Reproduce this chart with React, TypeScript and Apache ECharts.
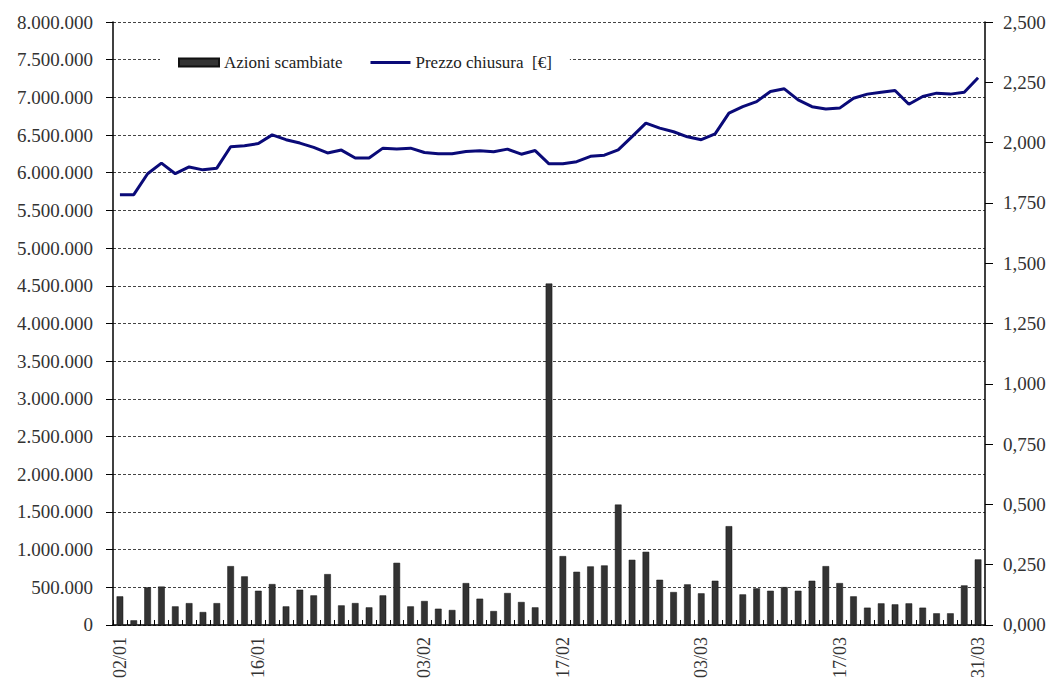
import React, { useEffect, useRef } from "react";
import * as echarts from "echarts";

const dates: string[] = [
  "02/01", "03/01", "06/01", "07/01", "08/01", "09/01", "10/01", "13/01", "14/01", "15/01",
  "16/01", "17/01", "20/01", "21/01", "22/01", "23/01", "24/01", "27/01", "28/01", "29/01",
  "30/01", "31/01", "03/02", "04/02", "05/02", "06/02", "07/02", "10/02", "11/02", "12/02",
  "13/02", "14/02", "17/02", "18/02", "19/02", "20/02", "21/02", "24/02", "25/02", "26/02",
  "27/02", "28/02", "03/03", "04/03", "05/03", "06/03", "07/03", "10/03", "11/03", "12/03",
  "13/03", "14/03", "17/03", "18/03", "19/03", "20/03", "21/03", "24/03", "25/03", "26/03",
  "27/03", "28/03", "31/03",
];

const shownLabels: string[] = ["02/01", "16/01", "03/02", "17/02", "03/03", "17/03", "31/03"];

const volumes: number[] = [
  380000, 62000, 500000, 510000, 247000, 290000, 172000, 290000, 781000, 645000,
  454000, 543000, 247000, 468000, 393000, 675000, 260000, 291000, 234000, 393000,
  825000, 247000, 318000, 216000, 199000, 556000, 349000, 185000, 424000, 305000,
  234000, 4530000, 914000, 706000, 777000, 790000, 1598000, 865000, 971000, 600000,
  437000, 539000, 420000, 587000, 1311000, 406000, 486000, 454000, 503000, 454000,
  587000, 781000, 556000, 380000, 230000, 287000, 274000, 287000, 230000, 155000,
  155000, 525000, 870000,
];

const prices: number[] = [
  1.784, 1.784, 1.871, 1.915, 1.871, 1.899, 1.887, 1.894, 1.983, 1.987,
  1.996, 2.032, 2.012, 1.998, 1.980, 1.957, 1.969, 1.936, 1.936, 1.977,
  1.973, 1.977, 1.959, 1.954, 1.954, 1.963, 1.966, 1.962, 1.973, 1.952,
  1.967, 1.912, 1.912, 1.921, 1.943, 1.948, 1.970, 2.025, 2.081, 2.060,
  2.045, 2.024, 2.012, 2.036, 2.122, 2.149, 2.170, 2.212, 2.223, 2.177,
  2.149, 2.139, 2.143, 2.184, 2.201, 2.209, 2.216, 2.159, 2.191, 2.205,
  2.201, 2.209, 2.269,
];

const seriesNames: string[] = ["Azioni scambiate", "Prezzo chiusura  [€]"];

const FONT = "'Liberation Serif', 'Times New Roman', serif";
const NAVY = "#0a0a78";

function fmtThousands(v: number): string {
  return Math.round(v).toString().replace(/\B(?=(\d{3})+(?!\d))/g, ".");
}

export default function App() {
  const ref = useRef<HTMLDivElement>(null);

  useEffect(() => {
    if (!ref.current) return;
    const chart = echarts.init(ref.current, undefined, { renderer: "svg" });
    chart.setOption({
      animation: false,
      backgroundColor: "#ffffff",
      textStyle: { fontFamily: FONT },
      grid: { left: 113, right: 65, top: 22, bottom: 55, containLabel: false },
      legend: {
        left: 160,
        top: 46,
        padding: [8, 18],
        backgroundColor: "#ffffff",
        itemGap: 28,
        itemWidth: 40,
        itemHeight: 8,
        textStyle: { fontFamily: FONT, fontSize: 17, color: "#222" },
        data: [
          { name: seriesNames[0], icon: "rect" },
          {
            name: seriesNames[1],
            icon: "path://M0 0H40V3H0Z",
            itemStyle: { color: NAVY },
          },
        ],
      },
      xAxis: {
        type: "category",
        data: dates,
        boundaryGap: true,
        axisLine: { lineStyle: { color: "#000", width: 1.5 } },
        axisTick: { show: true, inside: true, length: 5, interval: 0, lineStyle: { color: "#000" } },
        axisLabel: {
          rotate: 90,
          margin: 12,
          fontFamily: FONT,
          fontSize: 18,
          color: "#333",
          interval: (_i: number, v: string) => shownLabels.includes(v),
        },
        splitLine: { show: false },
      },
      yAxis: [
        {
          type: "value",
          min: 0,
          max: 8000000,
          interval: 500000,
          axisLine: { show: true, lineStyle: { color: "#000", width: 1.5 } },
          axisTick: { show: true, length: 7, lineStyle: { color: "#000" } },
          axisLabel: {
            margin: 20,
            fontFamily: FONT,
            fontSize: 19,
            color: "#333",
            formatter: (v: number) => fmtThousands(v),
          },
          splitLine: { show: true, lineStyle: { color: "#444", type: [3, 2], width: 1 } },
        },
        {
          type: "value",
          min: 0,
          max: 2.5,
          interval: 0.25,
          position: "right",
          axisLine: { show: true, lineStyle: { color: "#000", width: 1.5 } },
          axisTick: { show: true, length: 8, lineStyle: { color: "#000" } },
          axisLabel: {
            margin: 18,
            fontFamily: FONT,
            fontSize: 19,
            color: "#333",
            formatter: (v: number) => v.toFixed(3).replace(".", ","),
          },
          splitLine: { show: false },
        },
      ],
      series: [
        {
          name: seriesNames[0],
          type: "bar",
          yAxisIndex: 0,
          data: volumes,
          barWidth: "48%",
          itemStyle: { color: "#333333", borderColor: "#111", borderWidth: 0.5 },
        },
        {
          name: seriesNames[1],
          type: "line",
          yAxisIndex: 1,
          data: prices,
          symbol: "none",
          showSymbol: false,
          lineStyle: { color: NAVY, width: 3 },
          itemStyle: { color: NAVY },
          z: 3,
        },
      ],
    });
    return () => chart.dispose();
  }, []);

  return (
    <div
      ref={ref}
      style={{ position: "fixed", left: 0, top: 0, width: 1050, height: 681 }}
    />
  );
}
